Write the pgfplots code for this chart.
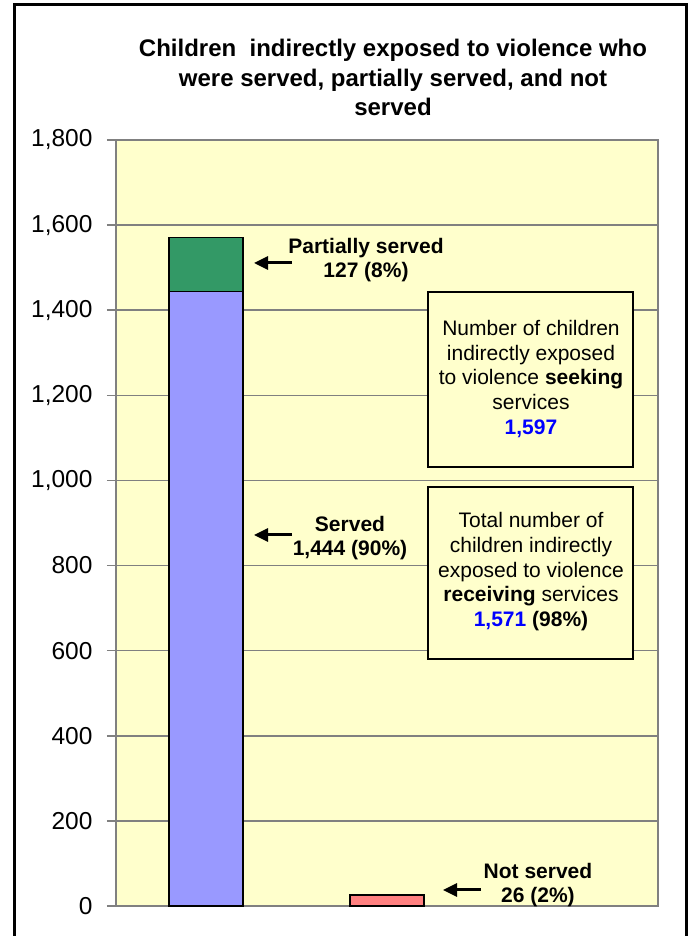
\documentclass[border=0pt]{standalone}
\usepackage{pgfplots}
\pgfplotsset{compat=1.18}
\usepackage{fontspec}
\setmainfont{Liberation Sans}
\usetikzlibrary{arrows.meta}
\definecolor{plotbg}{HTML}{FFFFCC}
\definecolor{gridgray}{HTML}{808080}
\definecolor{pblue}{HTML}{9999FF}
\definecolor{pgreen}{HTML}{339966}
\definecolor{pred}{HTML}{FF8080}
\definecolor{tblue}{HTML}{0000FF}
\newcommand{\af}{\fontsize{21}{24}\selectfont}
\begin{document}
\begin{tikzpicture}[x=1pt,y=1pt]
\useasboundingbox (0,0) rectangle (691,936);
\begin{axis}[
  at={(116pt,30pt)}, anchor=south west,
  width=542pt, height=766pt, scale only axis,
  xmin=-0.5, xmax=2.5, ymin=0, ymax=1800,
  ytick={0,200,...,1800},
  xtick=\empty,
  ymajorgrids,
  grid style={draw=gridgray, line width=1.5pt},
  axis line style={draw=gridgray, line width=1.5pt},
  axis background/.style={fill=plotbg},
  tick style={draw=gridgray, line width=1.5pt},
  tick align=outside, major tick length=9pt,
  ytick pos=left,
  yticklabel style={font=\fontsize{24.5}{28}\selectfont, xshift=-11pt},
  /pgf/number format/1000 sep={,},
  /pgf/number format/assume math mode=true,
  ybar, bar width=74pt,
  clip=false,
]
\addplot[fill=pgreen, draw=black, line width=1.8pt, bar shift=0pt] coordinates {(0,1571)};
\addplot[fill=pblue, draw=black, line width=1.8pt, bar shift=0pt] coordinates {(0,1444)};
\addplot[fill=pred, draw=black, line width=1.8pt, bar shift=0pt] coordinates {(1,26)};
\end{axis}
% title
\node[anchor=base, font=\bfseries\fontsize{24}{30}\selectfont] at (393,879) {Children \ indirectly exposed to violence who};
\node[anchor=base, font=\bfseries\fontsize{24}{30}\selectfont] at (393,849) {were served, partially served, and not};
\node[anchor=base, font=\bfseries\fontsize{24}{30}\selectfont] at (393,820) {served};
% partially served
\node[anchor=base, font=\bfseries\af] at (366,682) {Partially served};
\node[anchor=base, font=\bfseries\af] at (366,658) {127 (8\%)};
\draw[line width=3pt, -{Triangle[length=14pt,width=13pt]}] (292,673) -- (254,673);
% served
\node[anchor=base, font=\bfseries\af] at (350,404) {Served};
\node[anchor=base, font=\bfseries\af] at (350,380) {1,444 (90\%)};
\draw[line width=3pt, -{Triangle[length=14pt,width=13pt]}] (292,401) -- (254,401);
% not served
\node[anchor=base, font=\bfseries\af] at (538,57) {Not served};
\node[anchor=base, font=\bfseries\af] at (538,33) {26 (2\%)};
\draw[line width=3pt, -{Triangle[length=14pt,width=13pt]}] (481,46) -- (443,46);
% box 1
\draw[fill=plotbg, draw=black, line width=1.5pt] (428,469) rectangle (633,644);
\node[anchor=base, font=\af] at (531,600) {Number of children};
\node[anchor=base, font=\af] at (531,575) {indirectly exposed};
\node[anchor=base, font=\af] at (531,551) {to violence \textbf{seeking}};
\node[anchor=base, font=\af] at (531,526) {services};
\node[anchor=base, font=\bfseries\af, text=tblue] at (531,501) {1,597};
% box 2
\draw[fill=plotbg, draw=black, line width=1.5pt] (428,277) rectangle (633,449);
\node[anchor=base, font=\af] at (531,408) {Total number of};
\node[anchor=base, font=\af] at (531,383) {children indirectly};
\node[anchor=base, font=\af] at (531,358) {exposed to violence};
\node[anchor=base, font=\af] at (531,334) {\textbf{receiving} services};
\node[anchor=base, font=\af] at (531,309) {\textbf{\textcolor{tblue}{1,571} (98\%)}};
% frame
\draw[line width=3pt, black] (14,-2) -- (14,931) -- (686,931) -- (686,-2);
\end{tikzpicture}
\end{document}
